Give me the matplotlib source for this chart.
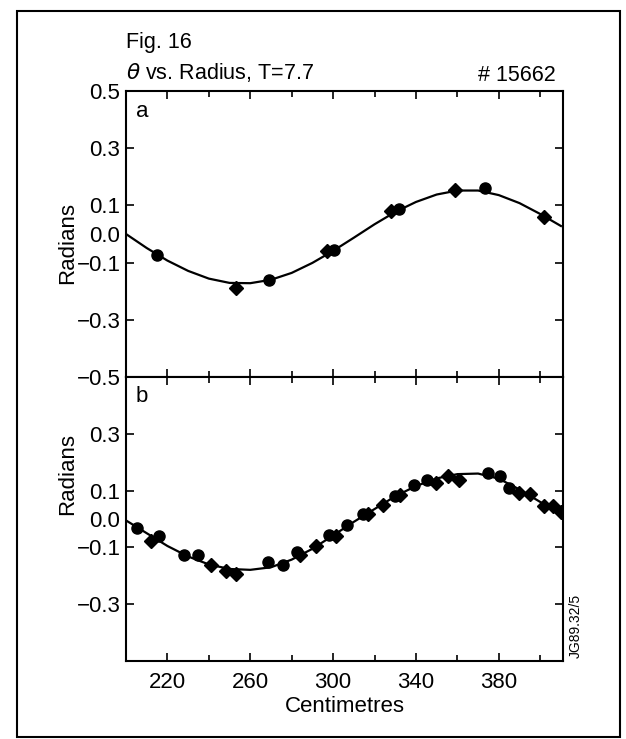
import numpy as np
import matplotlib
matplotlib.use('Agg')
from matplotlib import pyplot as plt
from matplotlib.patches import Rectangle

plt.rcParams['font.family'] = ['Liberation Sans', 'DejaVu Sans']
plt.rcParams['mathtext.fontset'] = 'dejavusans'

# fitted curves, read every 10 cm
curve_r = [200, 210, 220, 230, 240, 250, 260, 270, 280, 290, 300,
           310, 320, 330, 340, 350, 360, 370, 380, 390, 400, 410]
curve_a = [0.000, -0.049, -0.093, -0.129, -0.156, -0.171, -0.172, -0.160, -0.136, -0.101, -0.059,
           -0.013, 0.034, 0.077, 0.112, 0.138, 0.152, 0.152, 0.136, 0.108, 0.070, 0.028]
curve_b = [-0.005, -0.050, -0.095, -0.132, -0.160, -0.176, -0.179, -0.170, -0.143, -0.105, -0.058,
           -0.010, 0.035, 0.080, 0.116, 0.143, 0.158, 0.160, 0.142, 0.104, 0.060, 0.018]

# panel a measurements
a_circ_r = [215.2, 268.9, 300.2, 331.8, 373.4]
a_circ_v = [-0.074, -0.161, -0.056, 0.086, 0.162]
a_diam_r = [253.3, 297.0, 328.0, 358.7, 402.0]
a_diam_v = [-0.188, -0.061, 0.079, 0.153, 0.059]

# panel b measurements
b_circ_r = [205.4, 216.1, 227.8, 234.8, 268.7, 276.0, 282.6, 298.1, 306.8, 314.5,
            329.9, 338.9, 345.5, 374.9, 380.6, 384.7]
b_circ_v = [-0.032, -0.061, -0.126, -0.128, -0.152, -0.161, -0.116, -0.055, -0.022, 0.018,
            0.080, 0.119, 0.139, 0.162, 0.151, 0.109]
b_diam_r = [212.0, 240.9, 248.3, 253.2, 284.2, 291.6, 301.4, 316.9, 324.3, 332.4,
            349.5, 355.3, 361.0, 389.6, 395.3, 401.9, 406.0, 410.1]
b_diam_v = [-0.077, -0.161, -0.182, -0.194, -0.126, -0.094, -0.061, 0.018, 0.051, 0.084,
            0.127, 0.151, 0.139, 0.092, 0.088, 0.045, 0.045, 0.025]

major_y = [-0.3, -0.1, 0.1, 0.3]
major_x = [220, 260, 300, 340, 380]
minor_x = [200, 240, 280, 320, 360, 400]

W, H = 626, 739
fig = plt.figure(figsize=(W / 100, H / 100), dpi=100)

def box(l, t, r, b):
    return [l / W, 1 - b / H, (r - l) / W, (b - t) / H]

ax_a = fig.add_axes(box(126, 91, 563, 377))
ax_b = fig.add_axes(box(126, 377, 563, 661))

fs = 16
def fmt(v):
    return ('%.1f' % v).replace('-', '\u2212')

for ax, cv, cr, cvv, dr, dvv, extra, tag in [
        (ax_a, curve_a, a_circ_r, a_circ_v, a_diam_r, a_diam_v, [-0.5, 0.0, 0.5], 'a'),
        (ax_b, curve_b, b_circ_r, b_circ_v, b_diam_r, b_diam_v, [0.0], 'b')]:
    ax.plot(curve_r, cv, color='black', lw=1.6, zorder=2)
    ax.plot(cr, cvv, 'o', color='black', ms=8, zorder=3)
    ax.plot(dr, dvv, 'D', color='black', ms=7.5, zorder=3)
    ax.set_xlim(200, 411)
    ax.set_ylim(-0.5, 0.5)
    ax.set_yticks(major_y)
    ax.set_yticklabels([fmt(v) for v in major_y])
    ax.set_yticks(extra, minor=True)
    ax.set_yticklabels([fmt(v) for v in extra], minor=True)
    ax.set_xticks(major_x)
    ax.set_xticks(minor_x, minor=True)
    ax.tick_params(axis='both', which='both', direction='in', top=True, right=True,
                   labelsize=fs, width=1.2)
    ax.tick_params(axis='y', which='major', length=6, pad=4)
    ax.tick_params(axis='y', which='minor', length=0, pad=4)
    ax.tick_params(axis='x', which='major', length=6, pad=8)
    ax.tick_params(axis='x', which='minor', length=4)
    for s in ax.spines.values():
        s.set_linewidth(1.5)
    ax.set_ylabel('Radians', fontsize=fs)
    ax.text(0.022, 0.93, tag, transform=ax.transAxes, fontsize=fs, ha='left', va='center')

ax_a.tick_params(axis='x', labelbottom=False)
ax_a.yaxis.set_label_coords(-0.11, 0.47)
ax_b.yaxis.set_label_coords(-0.11, 0.66)
ax_b.set_xlabel('Centimetres', fontsize=fs, labelpad=2)

fig.text(126 / W, 1 - 48 / H, 'Fig. 16', fontsize=15.5, ha='left', va='baseline')
fig.text(126 / W, 1 - 79 / H, r'$\theta$ vs. Radius, T=7.7', fontsize=15.5, ha='left', va='baseline')
fig.text(556 / W, 1 - 81 / H, '# 15662', fontsize=15.5, ha='right', va='baseline')
fig.text(576 / W, 1 - 658 / H, 'JG89.32/5', fontsize=10, rotation=90, ha='center', va='bottom')

fig.patches.append(Rectangle((17 / W, 1 - 737 / H), 603 / W, 726 / H, transform=fig.transFigure,
                             fill=False, edgecolor='black', lw=1.5))

fig.savefig('out.png', dpi=100)
